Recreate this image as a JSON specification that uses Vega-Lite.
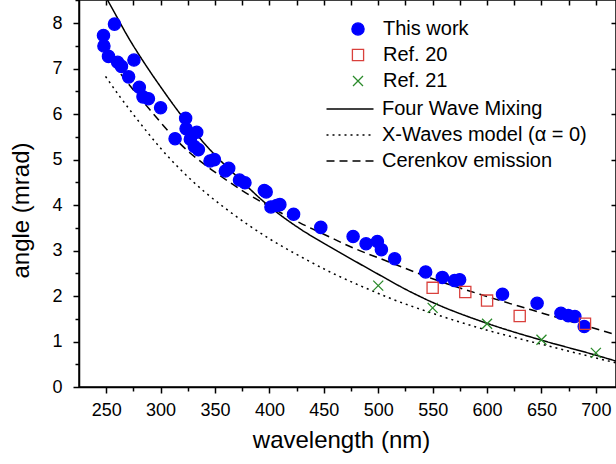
{
  "$schema": "https://vega.github.io/schema/vega-lite/v6.json",
  "width": 537,
  "height": 387,
  "autosize": {"type": "none"},
  "padding": {"left": 79, "top": 0, "right": 0, "bottom": 77},
  "background": "white",
  "config": {
    "view": {"stroke": "black", "strokeWidth": 1.5},
    "font": "Liberation Sans",
    "axis": {
      "grid": false,
      "domainColor": "black",
      "domainWidth": 1.5,
      "tickColor": "black",
      "tickWidth": 1.5,
      "labelColor": "black",
      "titleColor": "black",
      "labelFont": "Liberation Sans",
      "titleFont": "Liberation Sans",
      "titleFontWeight": "normal",
      "labelFontSize": 18,
      "titleFontSize": 24
    },
    "legend": {"labelFont": "Liberation Sans", "labelFontSize": 20, "labelColor": "black", "labelLimit": 400}
  },
  "datasets": {
    "curves": [
      {"wl": 251.2, "angle": 8.51, "model": "Four Wave Mixing"},
      {"wl": 257, "angle": 8.26, "model": "Four Wave Mixing"},
      {"wl": 270, "angle": 7.7, "model": "Four Wave Mixing"},
      {"wl": 283, "angle": 7.2, "model": "Four Wave Mixing"},
      {"wl": 300, "angle": 6.6, "model": "Four Wave Mixing"},
      {"wl": 324, "angle": 5.82, "model": "Four Wave Mixing"},
      {"wl": 350, "angle": 5.1, "model": "Four Wave Mixing"},
      {"wl": 367, "angle": 4.7, "model": "Four Wave Mixing"},
      {"wl": 400, "angle": 3.97, "model": "Four Wave Mixing"},
      {"wl": 428, "angle": 3.48, "model": "Four Wave Mixing"},
      {"wl": 450, "angle": 3.16, "model": "Four Wave Mixing"},
      {"wl": 474, "angle": 2.83, "model": "Four Wave Mixing"},
      {"wl": 500, "angle": 2.48, "model": "Four Wave Mixing"},
      {"wl": 525, "angle": 2.15, "model": "Four Wave Mixing"},
      {"wl": 550, "angle": 1.86, "model": "Four Wave Mixing"},
      {"wl": 600, "angle": 1.4, "model": "Four Wave Mixing"},
      {"wl": 650, "angle": 1.03, "model": "Four Wave Mixing"},
      {"wl": 700, "angle": 0.7, "model": "Four Wave Mixing"},
      {"wl": 718.5, "angle": 0.57, "model": "Four Wave Mixing"},
      {"wl": 249.4, "angle": 6.83, "model": "X-Waves model (α = 0)"},
      {"wl": 263, "angle": 6.37, "model": "X-Waves model (α = 0)"},
      {"wl": 277, "angle": 5.93, "model": "X-Waves model (α = 0)"},
      {"wl": 300, "angle": 5.25, "model": "X-Waves model (α = 0)"},
      {"wl": 320, "angle": 4.74, "model": "X-Waves model (α = 0)"},
      {"wl": 340, "angle": 4.3, "model": "X-Waves model (α = 0)"},
      {"wl": 360, "angle": 3.92, "model": "X-Waves model (α = 0)"},
      {"wl": 382, "angle": 3.54, "model": "X-Waves model (α = 0)"},
      {"wl": 400, "angle": 3.26, "model": "X-Waves model (α = 0)"},
      {"wl": 430, "angle": 2.85, "model": "X-Waves model (α = 0)"},
      {"wl": 460, "angle": 2.48, "model": "X-Waves model (α = 0)"},
      {"wl": 489, "angle": 2.17, "model": "X-Waves model (α = 0)"},
      {"wl": 511, "angle": 1.95, "model": "X-Waves model (α = 0)"},
      {"wl": 550, "angle": 1.62, "model": "X-Waves model (α = 0)"},
      {"wl": 600, "angle": 1.25, "model": "X-Waves model (α = 0)"},
      {"wl": 650, "angle": 0.94, "model": "X-Waves model (α = 0)"},
      {"wl": 700, "angle": 0.64, "model": "X-Waves model (α = 0)"},
      {"wl": 718.5, "angle": 0.53, "model": "X-Waves model (α = 0)"},
      {"wl": 249, "angle": 7.34, "model": "Cerenkov emission"},
      {"wl": 270, "angle": 6.68, "model": "Cerenkov emission"},
      {"wl": 290, "angle": 6.1, "model": "Cerenkov emission"},
      {"wl": 300, "angle": 5.82, "model": "Cerenkov emission"},
      {"wl": 313, "angle": 5.47, "model": "Cerenkov emission"},
      {"wl": 325, "angle": 5.19, "model": "Cerenkov emission"},
      {"wl": 340, "angle": 4.9, "model": "Cerenkov emission"},
      {"wl": 355, "angle": 4.64, "model": "Cerenkov emission"},
      {"wl": 375, "angle": 4.32, "model": "Cerenkov emission"},
      {"wl": 400, "angle": 3.97, "model": "Cerenkov emission"},
      {"wl": 428, "angle": 3.61, "model": "Cerenkov emission"},
      {"wl": 450, "angle": 3.36, "model": "Cerenkov emission"},
      {"wl": 474, "angle": 3.09, "model": "Cerenkov emission"},
      {"wl": 511, "angle": 2.74, "model": "Cerenkov emission"},
      {"wl": 550, "angle": 2.38, "model": "Cerenkov emission"},
      {"wl": 600, "angle": 1.99, "model": "Cerenkov emission"},
      {"wl": 650, "angle": 1.63, "model": "Cerenkov emission"},
      {"wl": 700, "angle": 1.28, "model": "Cerenkov emission"},
      {"wl": 718.5, "angle": 1.15, "model": "Cerenkov emission"}
    ],
    "thiswork": [
      {"wl": 247.5, "angle": 7.73, "series": "This work"},
      {"wl": 247.9, "angle": 7.5, "series": "This work"},
      {"wl": 252.1, "angle": 7.27, "series": "This work"},
      {"wl": 257.6, "angle": 7.98, "series": "This work"},
      {"wl": 260.5, "angle": 7.14, "series": "This work"},
      {"wl": 264, "angle": 7.05, "series": "This work"},
      {"wl": 270.6, "angle": 6.82, "series": "This work"},
      {"wl": 275.5, "angle": 7.19, "series": "This work"},
      {"wl": 280.4, "angle": 6.59, "series": "This work"},
      {"wl": 283.8, "angle": 6.38, "series": "This work"},
      {"wl": 288.8, "angle": 6.34, "series": "This work"},
      {"wl": 300, "angle": 6.14, "series": "This work"},
      {"wl": 313.3, "angle": 5.46, "series": "This work"},
      {"wl": 323, "angle": 5.91, "series": "This work"},
      {"wl": 323.4, "angle": 5.68, "series": "This work"},
      {"wl": 327.3, "angle": 5.45, "series": "This work"},
      {"wl": 333.2, "angle": 5.6, "series": "This work"},
      {"wl": 331, "angle": 5.29, "series": "This work"},
      {"wl": 334.7, "angle": 5.22, "series": "This work"},
      {"wl": 345.4, "angle": 4.97, "series": "This work"},
      {"wl": 349.4, "angle": 5.0, "series": "This work"},
      {"wl": 359.5, "angle": 4.75, "series": "This work"},
      {"wl": 362.6, "angle": 4.81, "series": "This work"},
      {"wl": 372.5, "angle": 4.55, "series": "This work"},
      {"wl": 377.5, "angle": 4.49, "series": "This work"},
      {"wl": 395.3, "angle": 4.32, "series": "This work"},
      {"wl": 397, "angle": 4.29, "series": "This work"},
      {"wl": 401.4, "angle": 3.96, "series": "This work"},
      {"wl": 406.6, "angle": 3.99, "series": "This work"},
      {"wl": 409.6, "angle": 4.01, "series": "This work"},
      {"wl": 422.2, "angle": 3.8, "series": "This work"},
      {"wl": 447.2, "angle": 3.51, "series": "This work"},
      {"wl": 476.9, "angle": 3.31, "series": "This work"},
      {"wl": 488.8, "angle": 3.15, "series": "This work"},
      {"wl": 499.2, "angle": 3.2, "series": "This work"},
      {"wl": 502.9, "angle": 3.02, "series": "This work"},
      {"wl": 515.1, "angle": 2.82, "series": "This work"},
      {"wl": 543.6, "angle": 2.53, "series": "This work"},
      {"wl": 558.9, "angle": 2.41, "series": "This work"},
      {"wl": 570.2, "angle": 2.34, "series": "This work"},
      {"wl": 574.8, "angle": 2.36, "series": "This work"},
      {"wl": 614.2, "angle": 2.04, "series": "This work"},
      {"wl": 646, "angle": 1.84, "series": "This work"},
      {"wl": 667.9, "angle": 1.62, "series": "This work"},
      {"wl": 674.6, "angle": 1.57, "series": "This work"},
      {"wl": 680.7, "angle": 1.55, "series": "This work"},
      {"wl": 689.3, "angle": 1.33, "series": "This work"}
    ],
    "refs": [
      {"wl": 550, "angle": 2.18, "series": "Ref. 20"},
      {"wl": 580, "angle": 2.09, "series": "Ref. 20"},
      {"wl": 600, "angle": 1.9, "series": "Ref. 20"},
      {"wl": 630, "angle": 1.56, "series": "Ref. 20"},
      {"wl": 690, "angle": 1.39, "series": "Ref. 20"},
      {"wl": 500, "angle": 2.23, "series": "Ref. 21"},
      {"wl": 550, "angle": 1.74, "series": "Ref. 21"},
      {"wl": 600, "angle": 1.39, "series": "Ref. 21"},
      {"wl": 650, "angle": 1.04, "series": "Ref. 21"},
      {"wl": 700, "angle": 0.75, "series": "Ref. 21"}
    ]
  },
  "layer": [
    {
      "data": {"name": "curves"},
      "mark": {"type": "line", "interpolate": "monotone", "color": "black", "strokeWidth": 1.5, "clip": true},
      "encoding": {
        "x": {"field": "wl", "type": "quantitative",
          "scale": {"domain": [225, 718.5], "nice": false, "zero": false},
          "axis": {"orient": "bottom", "values": [250, 300, 350, 400, 450, 500, 550, 600, 650, 700], "tickSize": 6, "labelPadding": 8, "labelFlush": false, "title": "wavelength (nm)", "titleX": 262, "titleY": 60, "titleBaseline": "alphabetic"}},
        "y": {"field": "angle", "type": "quantitative",
          "scale": {"domain": [0, 8.51], "nice": false, "zero": true},
          "axis": {"orient": "left", "values": [0, 1, 2, 3, 4, 5, 6, 7, 8], "tickSize": 6, "labelPadding": 11, "labelFlush": false, "title": "angle (mrad)", "titleX": -51, "titleY": 210, "titleBaseline": "alphabetic"}},
        "strokeDash": {"field": "model", "type": "nominal",
          "scale": {"domain": ["Four Wave Mixing", "X-Waves model (α = 0)", "Cerenkov emission"], "range": [[1, 0], [2, 4], [8, 5]]},
          "legend": {"title": null, "orient": "none", "legendX": 261, "legendY": 99, "symbolType": "M-4,0L4,0", "symbolSize": 138, "symbolStrokeWidth": 1.5, "symbolStrokeColor": "black", "symbolFillColor": "transparent", "labelOffset": 22, "rowPadding": 6, "padding": 0, "labelLimit": 400}}
      }
    },
    {
      "data": {"name": "thiswork"},
      "mark": {"type": "point", "strokeWidth": 1.3, "opacity": 1},
      "encoding": {
        "x": {"field": "wl", "type": "quantitative",
          "axis": {"orient": "bottom", "values": [275, 325, 375, 425, 475, 525, 575, 625, 675], "tickSize": 4, "labels": false, "domain": false, "title": null}},
        "y": {"field": "angle", "type": "quantitative",
          "axis": {"orient": "left", "values": [0.5, 1.5, 2.5, 3.5, 4.5, 5.5, 6.5, 7.5, 8.5], "tickSize": 4, "labels": false, "domain": false, "title": null}},
        "stroke": {"field": "series", "type": "nominal",
          "scale": {"domain": ["This work", "Ref. 20", "Ref. 21"], "range": ["#0000ff", "#d9403c", "#2a8a2a"]},
          "legend": {"title": null, "orient": "none", "legendX": 269, "legendY": 19, "labelOffset": 15, "rowPadding": 6, "padding": 0, "symbolStrokeWidth": 1.3}},
        "fill": {"field": "series", "type": "nominal",
          "scale": {"domain": ["This work", "Ref. 20", "Ref. 21"], "range": ["#0000ff", "transparent", "transparent"]}},
        "shape": {"field": "series", "type": "nominal",
          "scale": {"domain": ["This work", "Ref. 20", "Ref. 21"], "range": ["circle", "square", "M-1,-1L1,1M-1,1L1,-1"]}},
        "size": {"field": "series", "type": "nominal",
          "scale": {"domain": ["This work", "Ref. 20", "Ref. 21"], "range": [150, 100, 150]}}
      }
    },
    {
      "data": {"name": "refs"},
      "mark": {"type": "point", "strokeWidth": 1.3, "opacity": 1},
      "encoding": {
        "x": {"field": "wl", "type": "quantitative",
          "axis": {"orient": "top", "values": [250, 275, 300, 325, 350, 375, 400, 425, 450, 475, 500, 525, 550, 575, 600, 625, 650, 675, 700], "tickSize": -5, "labels": false, "domain": false, "title": null}},
        "y": {"field": "angle", "type": "quantitative",
          "axis": {"orient": "right", "values": [1, 2, 3, 4, 5, 6, 7, 8], "tickSize": -5, "labels": false, "domain": false, "title": null}},
        "stroke": {"field": "series", "type": "nominal"},
        "fill": {"field": "series", "type": "nominal"},
        "shape": {"field": "series", "type": "nominal"},
        "size": {"field": "series", "type": "nominal"}
      }
    }
  ],
  "resolve": {"axis": {"x": "independent", "y": "independent"}}
}
